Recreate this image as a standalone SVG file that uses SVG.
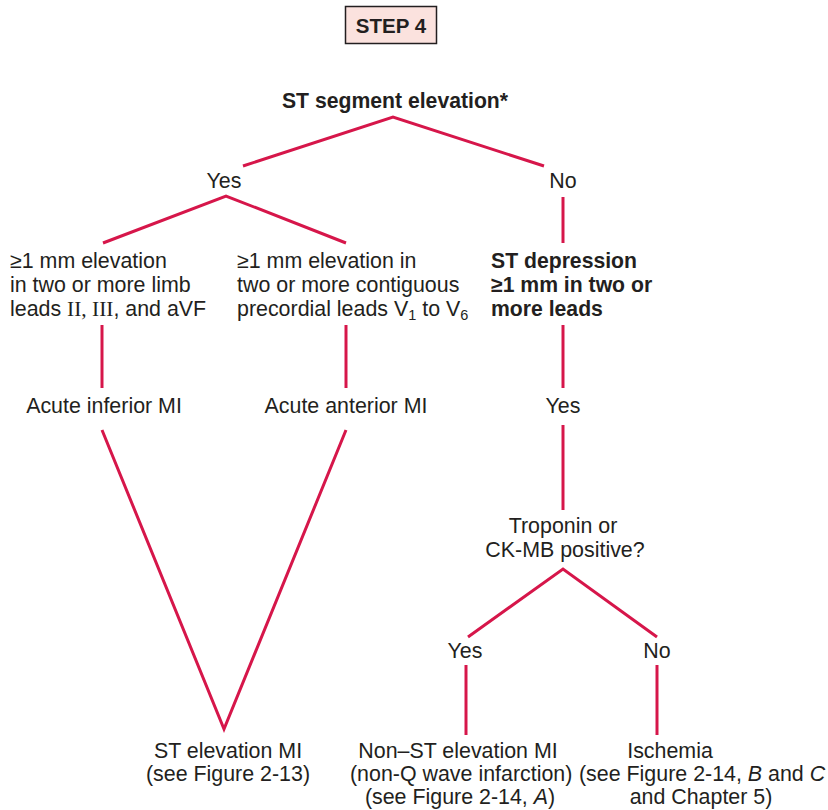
<svg xmlns="http://www.w3.org/2000/svg" width="828" height="810" viewBox="0 0 828 810">
<style>
  text { font-family: "Liberation Sans", Arial, sans-serif; font-size: 21.4px; fill: #231f20; }
  .b { font-weight: bold; font-size: 21.2px; }
  .m { text-anchor: middle; }
  .serif { font-family: "Liberation Serif", "Times New Roman", serif; }
  .sub { font-size: 14.5px; }
  .conn line, .conn polyline { stroke: #d6164a; stroke-width: 3; fill: none; stroke-linecap: butt; stroke-linejoin: miter; }
</style>
<rect width="828" height="810" fill="#ffffff"/>

<g id="step4">
  <rect x="345.5" y="6.5" width="91" height="37" fill="#fbe2de" stroke="#231f20" stroke-width="1.5"/>
  <text class="b m" x="391" y="33" style="font-size:20.5px">STEP 4</text>
</g>

<g id="connectors" class="conn">
  <polyline points="243,166 393,117 544,166"/>
  <polyline points="103,243 226,196 346,243"/>
  <line x1="563" y1="197" x2="563" y2="243"/>
  <line x1="102" y1="325" x2="102" y2="388"/>
  <line x1="346" y1="325" x2="346" y2="388"/>
  <line x1="563" y1="325" x2="563" y2="388"/>
  <polyline points="102,430 224,729 346,430"/>
  <line x1="563" y1="425" x2="563" y2="510"/>
  <polyline points="468,637 563,569 657,637"/>
  <line x1="466" y1="665" x2="466" y2="735"/>
  <line x1="657" y1="665" x2="657" y2="735"/>
</g>

<g id="st-elevation">
  <text class="b m" x="395" y="108">ST segment elevation*</text>
</g>
<g id="yes1"><text class="m" x="224" y="188">Yes</text></g>
<g id="no1"><text class="m" x="563" y="188">No</text></g>

<g id="limb-leads">
  <text x="10" y="268">≥1 mm elevation</text>
  <text x="10" y="292">in two or more limb</text>
  <text x="10" y="316">leads <tspan class="serif">II, III</tspan>, and aVF</text>
</g>
<g id="precordial-leads">
  <text x="237" y="268">≥1 mm elevation in</text>
  <text x="237" y="292">two or more contiguous</text>
  <text x="237" y="316">precordial leads V<tspan class="sub" dy="4">1</tspan><tspan dy="-4"> to V</tspan><tspan class="sub" dy="4">6</tspan></text>
</g>
<g id="st-depression">
  <text class="b" x="491" y="268">ST depression</text>
  <text class="b" x="491" y="292">≥1 mm in two or</text>
  <text class="b" x="491" y="316">more leads</text>
</g>

<g id="acute-inferior"><text class="m" x="104" y="413">Acute inferior MI</text></g>
<g id="acute-anterior"><text class="m" x="346" y="413">Acute anterior MI</text></g>
<g id="yes2"><text class="m" x="563" y="413">Yes</text></g>

<g id="troponin">
  <text class="m" x="563" y="533">Troponin or</text>
  <text class="m" x="565" y="557">CK-MB positive?</text>
</g>
<g id="yes3"><text class="m" x="465" y="658">Yes</text></g>
<g id="no3"><text class="m" x="657" y="658">No</text></g>

<g id="stemi">
  <text class="m" x="228" y="758">ST elevation MI</text>
  <text class="m" x="228" y="781">(see Figure 2-13)</text>
</g>
<g id="nstemi">
  <text class="m" x="458" y="758">Non–ST elevation MI</text>
  <text x="350" y="781">(non-Q wave infarction)</text>
  <text class="m" x="460" y="804">(see Figure 2-14, <tspan font-style="italic">A</tspan>)</text>
</g>
<g id="ischemia">
  <text class="m" x="670" y="758">Ischemia</text>
  <text x="579" y="781">(see Figure 2-14, <tspan font-style="italic">B</tspan> and <tspan font-style="italic">C</tspan></text>
  <text class="m" x="701" y="804">and Chapter 5)</text>
</g>
</svg>
